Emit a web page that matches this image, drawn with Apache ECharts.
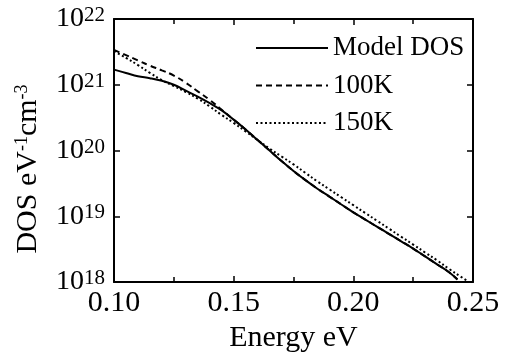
<!DOCTYPE html>
<html>
<head>
<meta charset="utf-8">
<script src="https://cdn.jsdelivr.net/npm/echarts@6/dist/echarts.min.js"></script>
<style>
html,body{margin:0;padding:0;background:#fff;}
#chart{width:505px;height:358px;}
</style>
</head>
<body>
<div id="chart"></div>
<script>
// Energy (eV) sample points
var energyModel = [0.100,0.105,0.110,0.115,0.120,0.125,0.130,0.135,0.140,0.145,0.150,0.155,0.160,0.165,0.170,0.175,0.180,0.185,0.190,0.195,0.200,0.205,0.210,0.215,0.220,0.225,0.230,0.235,0.240,0.2435];
// log10(DOS) for Model DOS
var modelLog = [21.23,21.18,21.13,21.10,21.06,21.00,20.91,20.82,20.72,20.61,20.47,20.32,20.16,20.00,19.84,19.69,19.55,19.42,19.30,19.18,19.06,18.95,18.84,18.73,18.62,18.51,18.39,18.27,18.15,18.04];
// log10(DOS) for 100K (merges with model above ~0.15 eV)
var k100Log = [21.53,21.45,21.37,21.29,21.22,21.14,21.03,20.90,20.77,20.62,20.47,20.32,20.16,20.00,19.84,19.69,19.55,19.42,19.30,19.18,19.06,18.95,18.84,18.73,18.62,18.51,18.39,18.27,18.15,18.04];
// 150K
var energy150 = [0.100,0.105,0.110,0.115,0.120,0.125,0.130,0.135,0.140,0.145,0.150,0.155,0.160,0.165,0.170,0.175,0.180,0.185,0.190,0.195,0.200,0.205,0.210,0.215,0.220,0.225,0.230,0.235,0.240,0.245,0.2475];
var k150Log = [21.51,21.41,21.30,21.18,21.07,20.98,20.89,20.79,20.67,20.54,20.42,20.29,20.16,20.03,19.91,19.79,19.66,19.53,19.41,19.29,19.17,19.05,18.93,18.81,18.69,18.57,18.45,18.33,18.20,18.08,18.02];

var seriesNames = ['Model DOS','100K','150K'];
var xTicks = [0.10,0.15,0.20,0.25];
var yExpTicks = [18,19,20,21,22];

function pairs(xs, ls){ return xs.map(function(x,i){ return [x, Math.pow(10, ls[i])]; }); }

var FONT = '"Liberation Serif", "Times New Roman", serif';
var chart = echarts.init(document.getElementById('chart'), null, {renderer:'canvas'});

var xBase = {
  type:'value', min:xTicks[0], max:xTicks[xTicks.length-1], interval:0.05,
  axisLine:{show:true, onZero:false, lineStyle:{color:'#000', width:2}},
  axisTick:{show:true, inside:true, length:6, lineStyle:{color:'#000', width:1.5}},
  minorTick:{show:true, splitNumber:2, length:5, lineStyle:{color:'#000', width:1.5}},
  splitLine:{show:false}, minorSplitLine:{show:false}
};
var yBase = {
  type:'log', logBase:10, min:Math.pow(10,yExpTicks[0]), max:Math.pow(10,yExpTicks[yExpTicks.length-1]),
  axisLine:{show:true, onZero:false, lineStyle:{color:'#000', width:2}},
  axisTick:{show:true, inside:true, length:6, lineStyle:{color:'#000', width:1.5}},
  splitLine:{show:false}
};

var option = {
  backgroundColor:'#fff',
  animation:false,
  grid:{left:114, right:32, top:19, bottom:75, containLabel:false},
  legend:{
    orient:'vertical', left:250, top:28, padding:5,
    itemWidth:72, itemHeight:14, itemGap:7.5,
    data:seriesNames,
    itemStyle:{opacity:0},
    textStyle:{fontFamily:FONT, fontSize:27, color:'#000', lineHeight:30}
  },
  xAxis:[
    Object.assign({}, xBase, {
      position:'bottom',
      axisLabel:{show:true, margin:6, color:'#000', fontFamily:FONT, fontSize:30,
        formatter:function(v){ return v.toFixed(2); }},
      name:'Energy eV', nameLocation:'middle', nameGap:40,
      nameTextStyle:{fontFamily:FONT, fontSize:30, color:'#000'}
    }),
    Object.assign({}, xBase, {position:'top', axisLabel:{show:false}})
  ],
  yAxis:[
    Object.assign({}, yBase, {
      position:'left',
      axisLabel:{show:true, margin:9, color:'#000',
        formatter:function(v){ return '{b|10}{s|' + Math.round(Math.log10(v)) + '}'; },
        rich:{
          b:{fontFamily:FONT, fontSize:28, color:'#000', verticalAlign:'bottom'},
          s:{fontFamily:FONT, fontSize:21, color:'#000', verticalAlign:'top'}
        }
      }
    }),
    Object.assign({}, yBase, {position:'right', axisLabel:{show:false}})
  ],
  graphic:[{
    type:'text', x:28, y:169, rotation:Math.PI/2,
    style:{
      text:'{b|DOS eV}{s|-1}{b|cm}{s|-3}',
      align:'center', verticalAlign:'middle',
      rich:{
        b:{fontFamily:FONT, fontSize:30, fill:'#000', verticalAlign:'bottom'},
        s:{fontFamily:FONT, fontSize:18, fill:'#000', verticalAlign:'top'}
      }
    }
  }],
  series:[
    {name:seriesNames[0], type:'line', smooth:0.4, showSymbol:false, symbol:'none',
     data:pairs(energyModel, modelLog), lineStyle:{color:'#000', width:2, type:'solid'}, itemStyle:{color:'#000'}},
    {name:seriesNames[1], type:'line', smooth:0.4, showSymbol:false, symbol:'none',
     data:pairs(energyModel, k100Log), lineStyle:{color:'#000', width:2, type:[6,4]}, itemStyle:{color:'#000'}},
    {name:seriesNames[2], type:'line', smooth:0.4, showSymbol:false, symbol:'none',
     data:pairs(energy150, k150Log), lineStyle:{color:'#000', width:2, type:[2,2.5]}, itemStyle:{color:'#000'}}
  ]
};
chart.setOption(option);
</script>
</body>
</html>
